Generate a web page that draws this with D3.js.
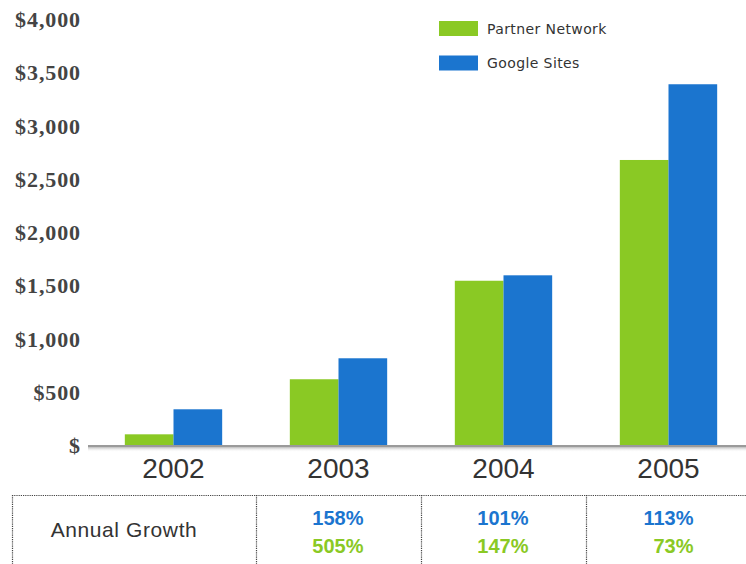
<!doctype html>
<html lang="en">
<head>
  <meta charset="utf-8">
  <title>Revenue by source</title>
  <script type="text/javascript" src="https://cdnjs.cloudflare.com/ajax/libs/d3/7.8.5/d3.min.js"></script>
  <style>
    body { margin: 0; background: #fff; }
  </style>
</head>
<body>
  <svg width="746" height="564" id="svg"></svg>
<script type="text/javascript">

	// values (millions of dollars)
	var years = ['2002', '2003', '2004', '2005'];
	var partnerNetwork = [105, 622, 1547, 2681];
	var googleSites = [340, 819, 1598, 3392];
	var seriesNames = ['Partner Network', 'Google Sites'];
	var yTicks = [0, 500, 1000, 1500, 2000, 2500, 3000, 3500, 4000];
	// growth row, one entry per year (2002 has none)
	var growthSites = [null, '158%', '101%', '113%'];
	var growthPartner = [null, '505%', '147%', '73%'];

	var green = '#8ac924',
		blue = '#1b75cf';

	var svg = d3.select('#svg');

	var x = d3.scaleBand()
		.domain(years)
		.range([91, 751])
		.paddingInner(0.41)
		.paddingOuter(0.205);

	var x1 = d3.scaleBand()
		.domain(seriesNames)
		.range([0, x.bandwidth()]);

	var y = d3.scaleLinear()
		.domain([0, 4000])
		.range([445.5, 19.5]);

	var color = d3.scaleOrdinal()
		.domain(seriesNames)
		.range([green, blue]);

	/* y axis labels only, no line */
	var yAxis = svg.append('g')
		.attr('transform', 'translate(81,0)')
		.call(d3.axisLeft(y)
			.tickValues(yTicks)
			.tickSize(0)
			.tickPadding(0)
			.tickFormat(function(d) { return d === 0 ? '$' : '$' + d3.format(',')(d); }));
	yAxis.select('.domain').remove();
	yAxis.selectAll('text')
		.attr('font-family', '"Liberation Serif", "Times New Roman", serif')
		.attr('font-weight', 'bold')
		.attr('font-size', 22)
		.attr('letter-spacing', 0.9)
		.attr('fill', '#444');

	/* bars */
	var rows = years.map(function(yr, i) {
		return { year: yr, values: [
			{ name: seriesNames[0], value: partnerNetwork[i] },
			{ name: seriesNames[1], value: googleSites[i] }
		] };
	});

	var groups = svg.selectAll('.year')
		.data(rows)
		.enter().append('g')
		.attr('class', 'year')
		.attr('transform', function(d) { return 'translate(' + x(d.year) + ',0)'; });

	groups.selectAll('rect')
		.data(function(d) { return d.values; })
		.enter().append('rect')
		.attr('x', function(d) { return x1(d.name); })
		.attr('width', x1.bandwidth())
		.attr('y', function(d) { return y(d.value); })
		.attr('height', function(d) { return y(0) - y(d.value); })
		.attr('fill', function(d) { return color(d.name); });

	/* baseline with a soft shadow under it */
	var defs = svg.append('defs');
	var grad = defs.append('linearGradient')
		.attr('id', 'shadow')
		.attr('x1', 0).attr('y1', 0).attr('x2', 0).attr('y2', 1);
	grad.append('stop').attr('offset', '0%').attr('stop-color', '#bbb');
	grad.append('stop').attr('offset', '100%').attr('stop-color', '#fff').attr('stop-opacity', 0);

	svg.append('rect')
		.attr('x', 88).attr('y', y(0) + 1.5)
		.attr('width', 746 - 88).attr('height', 5)
		.attr('fill', 'url(#shadow)');

	svg.append('line')
		.attr('x1', 88).attr('x2', 746)
		.attr('y1', y(0) + 0.5).attr('y2', y(0) + 0.5)
		.attr('stroke', '#9a9a9a')
		.attr('stroke-width', 2);

	/* year labels */
	var xAxis = svg.append('g')
		.attr('transform', 'translate(0,' + (y(0) + 6) + ')')
		.call(d3.axisBottom(x).tickSize(0).tickPadding(0));
	xAxis.select('.domain').remove();
	xAxis.selectAll('text')
		.attr('dy', '0.95em')
		.attr('font-family', '"Liberation Sans", Arial, sans-serif')
		.attr('font-size', 28)
		.attr('fill', '#333');

	/* legend */
	var legend = svg.append('g')
		.attr('transform', 'translate(439,21)');
	var item = legend.selectAll('g')
		.data(seriesNames)
		.enter().append('g')
		.attr('transform', function(d, i) { return 'translate(0,' + (i * 34.5) + ')'; });
	item.append('rect')
		.attr('width', 39).attr('height', 15)
		.attr('fill', function(d) { return color(d); });
	item.append('text')
		.attr('x', 48).attr('y', 8)
		.attr('dy', '0.35em')
		.attr('font-family', '"DejaVu Sans", Verdana, sans-serif')
		.attr('font-size', 14)
		.attr('letter-spacing', 0.4)
		.attr('fill', '#333')
		.text(function(d) { return d; });

	/* growth table */
	var tableTop = 495;
	var table = svg.append('g').attr('fill', 'none')
		.attr('stroke', '#444')
		.attr('stroke-width', 1.2)
		.attr('stroke-dasharray', '1.2,1');

	table.append('line')
		.attr('x1', 12).attr('x2', 746)
		.attr('y1', tableTop + 0.5).attr('y2', tableTop + 0.5);

	var dividers = [12].concat(years.slice(1).map(function(d) { return x(d) - x.step() * x.paddingInner() / 2; }));
	table.selectAll('.div')
		.data(dividers)
		.enter().append('line')
		.attr('class', 'div')
		.attr('x1', function(d) { return Math.round(d) + 0.5; })
		.attr('x2', function(d) { return Math.round(d) + 0.5; })
		.attr('y1', tableTop).attr('y2', 564);

	svg.append('text')
		.attr('x', 124).attr('y', 530)
		.attr('dy', '0.35em')
		.attr('text-anchor', 'middle')
		.attr('font-family', '"Liberation Sans", Arial, sans-serif')
		.attr('font-size', 21)
		.attr('letter-spacing', 0.6)
		.attr('fill', '#333')
		.text('Annual Growth');

	var growth = svg.selectAll('.growth')
		.data(years.map(function(d, i) { return { year: d, sites: growthSites[i], partner: growthPartner[i] }; })
			.filter(function(d) { return d.sites; }))
		.enter().append('g')
		.attr('class', 'growth')
		.attr('font-family', '"Liberation Sans", Arial, sans-serif')
		.attr('font-weight', 'bold')
		.attr('font-size', 20)
		.attr('text-anchor', 'end');

	growth.append('text')
		.attr('x', function(d) { return x(d.year) + x.bandwidth() / 2 + 25; })
		.attr('y', 518)
		.attr('dy', '0.35em')
		.attr('fill', blue)
		.text(function(d) { return d.sites; });

	growth.append('text')
		.attr('x', function(d) { return x(d.year) + x.bandwidth() / 2 + 25; })
		.attr('y', 546)
		.attr('dy', '0.35em')
		.attr('fill', green)
		.text(function(d) { return d.partner; });

</script>
</body>
</html>
